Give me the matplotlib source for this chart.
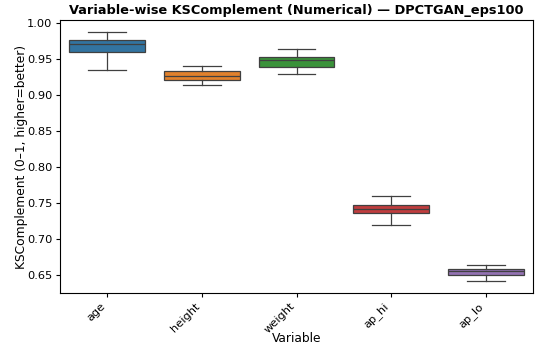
import matplotlib
matplotlib.use("Agg")
import matplotlib.pyplot as plt

variables = ["age", "height", "weight", "ap_hi", "ap_lo"]
whisker_low = [0.935, 0.913, 0.929, 0.7194, 0.642]
q1 = [0.960, 0.921, 0.938, 0.736, 0.650]
median = [0.970, 0.926, 0.948, 0.7417, 0.655]
q3 = [0.976, 0.933, 0.952, 0.7475, 0.658]
whisker_high = [0.9865, 0.940, 0.964, 0.760, 0.664]
colors = ["#3274a1", "#e1812c", "#3a923a", "#c03d3e", "#9372b2"]

stats = []
for i, v in enumerate(variables):
    stats.append(dict(label=v, whislo=whisker_low[i], q1=q1[i], med=median[i],
                      q3=q3[i], whishi=whisker_high[i], fliers=[]))

fig = plt.figure(figsize=(5.37, 3.49), dpi=100)
ax = fig.add_axes([60/537, 1-293/349, (533-60)/537, (293-20)/349])
line_c = "#404040"
bp = ax.bxp(stats, positions=range(len(variables)), widths=0.8, patch_artist=True,
            showfliers=False,
            boxprops=dict(edgecolor=line_c, linewidth=0.9),
            medianprops=dict(color=line_c, linewidth=0.9),
            whiskerprops=dict(color=line_c, linewidth=0.9),
            capprops=dict(color=line_c, linewidth=0.9))
for patch, c in zip(bp["boxes"], colors):
    patch.set_facecolor(c)
ax.set_xlim(-0.5, len(variables) - 0.5)
ax.margins(y=0.05)
ax.autoscale(axis="y")
ax.set_xticks(range(len(variables)))
ax.set_xticklabels(variables, rotation=45, ha="right", fontsize=8.2)
ax.tick_params(axis="both", labelsize=8.2, pad=2.5, length=3)
ax.set_xlabel("Variable", fontsize=8.8, labelpad=-2)
ax.set_ylabel("KSComplement (0–1, higher=better)", fontsize=8.8, labelpad=-1)
ax.set_title("Variable-wise KSComplement (Numerical) — DPCTGAN_eps100",
             fontsize=9.3, fontweight="bold", pad=4)
fig.savefig("out.png", dpi=100)
